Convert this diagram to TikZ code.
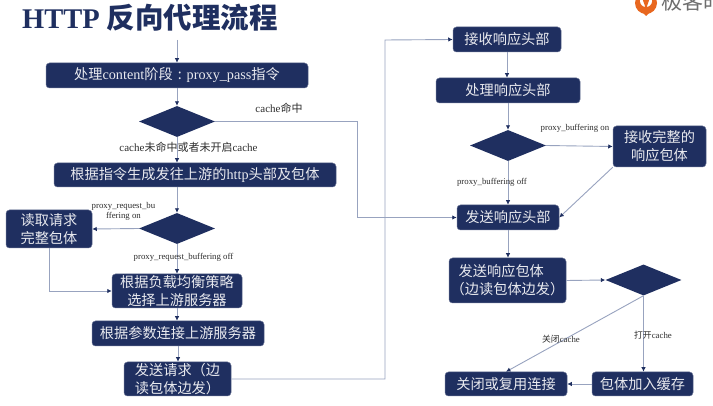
\documentclass[tikz,border=0pt]{standalone}
\usepackage{fontspec}
\setmainfont{Liberation Serif}
\newfontfamily\cjk{Noto Sans CJK SC}
\usetikzlibrary{arrows.meta,shapes.geometric}
\definecolor{navy}{HTML}{1F2F60}
\definecolor{wire}{HTML}{98A3BF}
\definecolor{labelc}{HTML}{2E2E2E}
\definecolor{logoc}{HTML}{E8671F}
\definecolor{logot}{HTML}{6E6E6E}
\tikzset{
  box/.style={draw=navy!70!white,line width=.5pt,fill=navy,rounded corners=3.5pt,text=white!90!navy,inner sep=0pt,align=center,font=\fontsize{14.2}{18}\selectfont},
  cbox/.style={box,font=\cjk\fontsize{14.2}{18}\selectfont},
  dec/.style={fill=navy,diamond,aspect=2.45,inner sep=0pt,minimum width=76pt,minimum height=31pt},
  wireln/.style={draw=wire,line width=.9pt,-{Latex[length=4.5pt,width=4.5pt,color=navy]}},
  lab/.style={text=labelc,inner sep=0pt,font=\fontsize{8.8}{10.5}\selectfont,align=center},
  labbig/.style={lab,font=\fontsize{11}{13}\selectfont}
}
\begin{document}
\begin{tikzpicture}[x=1pt,y=-1pt]
\useasboundingbox (0,0) rectangle (713,406);
\fill[white] (0,0) rectangle (713,406);
% title
\node[anchor=base west,inner sep=0pt,text=navy,font=\fontsize{28.5}{32}\selectfont\bfseries] (title) at (22,29) {HTTP {\cjk 反向代理流程}};
% logo
\begin{scope}
\clip (630,0) rectangle (713,30);
\fill[logoc] (646,3) circle (11pt);
\fill[logoc] (642,12) -- (650,12) -- (646,16) -- cycle;
\fill[white] (646,1) circle (6pt);
\fill[logoc] (642.5,-1) -- (649.5,-1) -- (646,9) -- cycle;
\node[anchor=base west,inner sep=0pt,text=logot,font=\cjk\fontsize{21}{24}\selectfont] (logo) at (661,10) {极客时};
\end{scope}
% boxes (left)
\node[box,minimum width=262pt,minimum height=25pt] (A) at (177,75.5) {{\cjk 处理}content{\cjk 阶段}\hspace{5pt}{\cjk :}\hspace{5pt}proxy\_pass{\cjk 指令}};
\node[dec] (D1) at (177,121.5) {};
\node[box,minimum width=282pt,minimum height=24pt] (B) at (195,175) {{\cjk 根据指令生成发往上游的}http{\cjk 头部及包体}};
\node[dec] (D2) at (177,228.5) {};
\node[cbox,minimum width=86pt,minimum height=38pt] (C) at (49,229) {读取请求\\完整包体};
\node[cbox,minimum width=130pt,minimum height=34pt] (E) at (177,291) {根据负载均衡策略\\选择上游服务器};
\node[cbox,minimum width=172pt,minimum height=25pt] (F) at (178,333.5) {根据参数连接上游服务器};
\node[cbox,minimum width=107pt,minimum height=34pt] (G) at (177.5,379) {发送请求（边\\读包体边发）};
% boxes (right)
\node[cbox,minimum width=108pt,minimum height=25pt] (H) at (507,39.5) {接收响应头部};
\node[cbox,minimum width=144pt,minimum height=25pt] (I) at (508,90.5) {处理响应头部};
\node[dec] (D3) at (508,145.5) {};
\node[cbox,minimum width=93pt,minimum height=41pt] (J) at (659.5,146.5) {接收完整的\\响应包体};
\node[cbox,minimum width=102pt,minimum height=25pt] (K) at (508,217.5) {发送响应头部};
\node[cbox,minimum width=117pt,minimum height=45pt,align=left] (L) at (507.5,280.5) {\hspace*{8pt}发送响应包体\\（边读包体边发）};
\node[dec] (D4) at (643.5,280) {};
\node[cbox,minimum width=122pt,minimum height=24pt] (M) at (506,384) {关闭或复用连接};
\node[cbox,minimum width=101pt,minimum height=24pt] (N) at (642.5,384) {包体加入缓存};
% connectors
\coordinate (start) at (177,40);
\coordinate (g1) at (385,379);
\coordinate (g2) at (385,40);
\coordinate (c1) at (49,291);
\coordinate (k1) at (357,121.5);
\coordinate (k2) at (357,217.5);
\draw[wireln] (start) -- (A.north -| start);
\draw[wireln] (A.south -| D1) -- (D1.north);
\draw[wireln] (D1.south) -- (B.north -| D1);
\draw[wireln] (B.south -| D2) -- (D2.north);
\draw[wireln] (D2.west) -- (C.east);
\draw[wireln] (D2.south) -- (E.north);
\draw[wireln] (C.south) -- (c1) -- (E.west);
\draw[wireln] (E.south) -- (F.north -| E);
\draw[wireln] (F.south) -- (G.north -| F);
\draw[wireln] (G.east) -- (g1) -- (g2) -- (H.west);
\draw[wireln] (D1.east) -- (k1) -- (k2) -- (K.west);
\draw[wireln] (H.south) -- (I.north -| H);
\draw[wireln] (I.south) -- (D3.north);
\draw[wireln] (D3.east) -- (J.west);
\draw[wireln] (D3.south) -- (K.north);
\draw[wireln] (J.south west) -- (K.east);
\draw[wireln] (K.south) -- (L.north -| K);
\draw[wireln] (L.east) -- (D4.west);
\draw[wireln] (D4.south) -- (M.north);
\draw[wireln] (D4.south) -- (N.north -| D4);
\draw[wireln] (N.west) -- (M.east);
% labels
\node[labbig] (l1) at (279,108) {cache{\cjk 命中}};
\node[labbig] (l2) at (188.5,147) {cache{\cjk 未命中或者未开启}cache};
\node[lab] (l3) at (123.5,211.5) {proxy\_request\_bu\\ffering on};
\node[lab] (l4) at (183.5,257) {proxy\_request\_buffering off};
\node[lab] (l5) at (575,128) {proxy\_buffering on};
\node[lab] (l6) at (492,182.5) {proxy\_buffering off};
\node[lab] (l7) at (561,339) {{\cjk 关闭}cache};
\node[lab] (l8) at (653,335) {{\cjk 打开}cache};
\end{tikzpicture}
\end{document}
